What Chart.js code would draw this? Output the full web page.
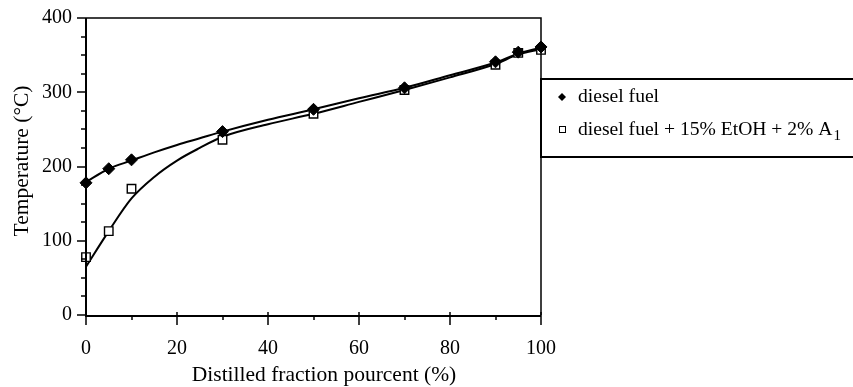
<!DOCTYPE html>
<html><head><meta charset="utf-8">
<script src="https://cdn.jsdelivr.net/npm/chart.js@4"></script>
<style>html,body{margin:0;padding:0;background:#fff;}#wrap{width:853px;height:387px;}</style>
</head><body><div id="wrap"><canvas id="c" width="853" height="387"></canvas></div>
<script>
const xValues = [0, 5, 10, 30, 50, 70, 90, 95, 100];
const dieselTemps = [178, 197, 209, 247, 277, 306, 341, 354, 361];
const blendTemps = [78, 113, 170, 236, 271, 303, 337, 353, 357];
const curveX = [0, 5, 10, 15, 20, 25, 30, 40, 50, 60, 70, 80, 90, 95, 100];
const dieselCurve = [179, 197, 208, 219, 229, 238, 247, 263, 277, 292, 306, 323, 340, 352, 360];
const blendCurve = [65, 113, 157, 186, 208, 225, 240, 257, 271, 287, 303, 320, 338, 351, 358];
const xTicks = [0, 20, 40, 60, 80, 100];
const yTicks = [0, 100, 200, 300, 400];
const legendLabels = ["diesel fuel", "diesel fuel + 15% EtOH + 2% A"];
const legendSub = ["", "1"];
const xTitle = "Distilled fraction pourcent (%)";
const yTitle = "Temperature (\u00B0C)";

const FONT = "'Liberation Serif', 'Times New Roman', serif";
const pts = (xs, ys) => xs.map((x, i) => ({x: x, y: ys[i]}));

const deco = {
  id: 'deco',
  afterDraw(chart) {
    const ctx = chart.ctx, a = chart.chartArea;
    const xs = chart.scales.x, ys = chart.scales.y;
    ctx.save();
    ctx.strokeStyle = '#000';
    // frame
    ctx.lineWidth = 1.5;
    ctx.beginPath();
    ctx.moveTo(a.left, a.top); ctx.lineTo(a.right, a.top); ctx.lineTo(a.right, a.bottom);
    ctx.stroke();
    ctx.lineWidth = 2;
    ctx.beginPath();
    ctx.moveTo(a.left, a.top); ctx.lineTo(a.left, a.bottom + 1); ctx.lineTo(a.right, a.bottom + 1);
    ctx.stroke();
    // ticks
    ctx.lineWidth = 1.5;
    ctx.beginPath();
    for (let v = 0; v <= 100; v += 10) {
      const px = Math.round(xs.getPixelForValue(v));
      const major = v % 20 === 0;
      ctx.moveTo(px, a.bottom - (major ? 3 : 0)); ctx.lineTo(px, a.bottom + (major ? 10 : 5));
    }
    for (let v = 0; v <= 400; v += 25) {
      const py = Math.round(ys.getPixelForValue(v));
      const major = v % 100 === 0;
      ctx.moveTo(a.left, py); ctx.lineTo(a.left - (major ? 9 : 5), py);
    }
    ctx.stroke();
    // axis titles
    ctx.fillStyle = '#000';
    ctx.font = '21.5px ' + FONT;
    ctx.textAlign = 'center'; ctx.textBaseline = 'middle';
    ctx.fillText(xTitle, 324, 375);
    ctx.save();
    ctx.translate(22, 161);
    ctx.rotate(-Math.PI / 2);
    ctx.fillText(yTitle, 0, 0);
    ctx.restore();
    // legend box
    ctx.lineWidth = 2;
    ctx.strokeRect(a.right, 79, 853 - a.right + 5, 78);
    const rows = [97, 130];
    // diamond
    ctx.beginPath();
    ctx.moveTo(562, rows[0] - 4); ctx.lineTo(566, rows[0]); ctx.lineTo(562, rows[0] + 4); ctx.lineTo(558, rows[0]);
    ctx.closePath(); ctx.fill();
    // small square
    ctx.lineWidth = 1;
    ctx.fillStyle = '#fff';
    ctx.fillRect(559.5, rows[1] - 3.5, 6, 6);
    ctx.strokeRect(559.5, rows[1] - 3.5, 6, 6);
    ctx.fillStyle = '#000';
    ctx.textAlign = 'left'; ctx.textBaseline = 'middle';
    for (let i = 0; i < legendLabels.length; i++) {
      ctx.font = '19.6px ' + FONT;
      ctx.fillText(legendLabels[i], 578, rows[i]);
      if (legendSub[i]) {
        const w = ctx.measureText(legendLabels[i]).width;
        ctx.font = '15px ' + FONT;
        ctx.fillText(legendSub[i], 578 + w + 1, rows[i] + 6);
      }
    }
    ctx.restore();
  }
};

new Chart(document.getElementById('c'), {
  type: 'scatter',
  data: {
    datasets: [
      {label: 'blendCurve', data: pts(curveX, blendCurve), showLine: true, borderColor: '#000', borderWidth: 2, pointRadius: 0, cubicInterpolationMode: 'monotone', clip: false, order: 4},
      {label: 'dieselCurve', data: pts(curveX, dieselCurve), showLine: true, borderColor: '#000', borderWidth: 2, pointRadius: 0, cubicInterpolationMode: 'monotone', clip: false, order: 3},
      {label: 'blend', data: pts(xValues, blendTemps), pointStyle: 'rect', pointRadius: 6, backgroundColor: '#fff', borderColor: '#000', borderWidth: 1.4, clip: false, order: 2},
      {label: 'diesel', data: pts(xValues, dieselTemps), pointStyle: 'rectRot', pointRadius: 6, backgroundColor: '#000', borderColor: '#000', borderWidth: 1, clip: false, order: 1}
    ]
  },
  options: {
    responsive: false,
    animation: false,
    layout: {padding: {top: 18, right: 312, left: 0, bottom: 0}},
    plugins: {legend: {display: false}, tooltip: {enabled: false}},
    scales: {
      x: {
        type: 'linear', min: 0, max: 100,
        afterFit: s => { s.height = 72; s.paddingLeft = 0; s.paddingRight = 0; },
        afterBuildTicks: s => { s.ticks = xTicks.map(v => ({value: v})); },
        grid: {display: false, drawTicks: false},
        border: {display: false},
        ticks: {color: '#000', padding: 22, font: {family: FONT, size: 20}, maxRotation: 0}
      },
      y: {
        type: 'linear', min: 0, max: 400,
        afterFit: s => { s.width = 86; s.paddingTop = 0; s.paddingBottom = 0; },
        afterBuildTicks: s => { s.ticks = yTicks.map(v => ({value: v})); },
        grid: {display: false, drawTicks: false},
        border: {display: false},
        ticks: {color: '#000', padding: 14, font: {family: FONT, size: 20}}
      }
    }
  },
  plugins: [deco]
});
</script></body></html>
